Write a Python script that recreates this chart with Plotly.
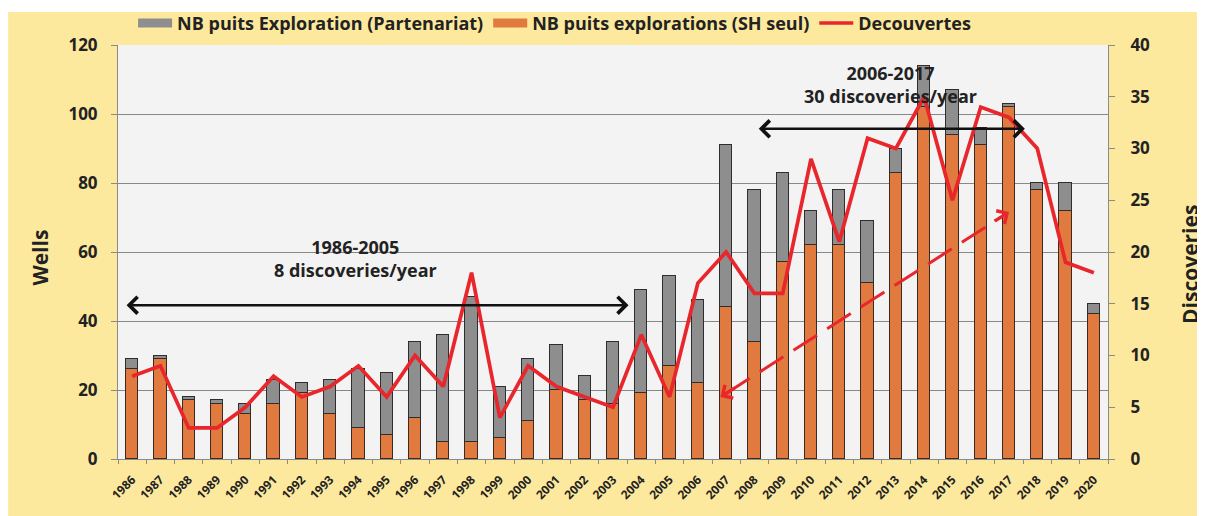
import plotly.graph_objects as go
from plotly.subplots import make_subplots

years = list(range(1986, 2021))
year_labels = [str(y) for y in years]
# gray stacked part (partnership wells)
partenariat = [3, 1, 1, 1, 3, 7, 3, 10, 17, 18, 22, 31, 42, 15, 18, 13, 7,
               18, 30, 26, 24, 47, 44, 26, 10, 16, 18, 7, 12, 13, 5, 1, 2, 8, 3]
# orange part (SH alone)
sh_seul = [26, 29, 17, 16, 13, 16, 19, 13, 9, 7, 12, 5, 5, 6, 11, 20, 17,
           16, 19, 27, 22, 44, 34, 57, 62, 62, 51, 83, 102, 94, 91, 102, 78, 72, 42]
decouvertes = [8, 9, 3, 3, 5, 8, 6, 7, 9, 6, 10, 7, 18, 4, 9, 7, 6,
               5, 12, 6, 17, 20, 16, 16, 29, 21, 31, 30, 35, 25, 34, 33, 30, 19, 18]
wells_ticks = [0, 20, 40, 60, 80, 100, 120]
disc_ticks = [0, 5, 10, 15, 20, 25, 30, 35, 40]

FONT = "Open Sans"
YELLOW = "#FDE99E"
TXT = "#222222"
ORANGE = "#E07A3E"
GRAY = "#8E8E8E"
RED = "#E8262B"

fig = make_subplots(specs=[[{"secondary_y": True}]])

fig.add_trace(go.Bar(
    x=years, y=sh_seul, name="NB puits explorations (SH seul)",
    marker=dict(color=ORANGE, line=dict(color="#3b2a20", width=1.5)),
    width=0.43, showlegend=False), secondary_y=False)
fig.add_trace(go.Bar(
    x=years, y=partenariat, name="NB puits Exploration (Partenariat)",
    marker=dict(color=GRAY, line=dict(color="#2e2e2e", width=1.5)),
    width=0.43, showlegend=False), secondary_y=False)
fig.add_trace(go.Scatter(
    x=years, y=decouvertes, name="Decouvertes", mode="lines",
    line=dict(color=RED, width=3.7), showlegend=False), secondary_y=True)

# legend entries (wide swatches like the reference)
fig.add_trace(go.Scatter(x=[None], y=[None], mode="lines", name="NB puits Exploration (Partenariat)",
                         line=dict(color=GRAY, width=9), legendrank=1), secondary_y=False)
fig.add_trace(go.Scatter(x=[None], y=[None], mode="lines", name="NB puits explorations (SH seul)",
                         line=dict(color=ORANGE, width=9), legendrank=2), secondary_y=False)
fig.add_trace(go.Scatter(x=[None], y=[None], mode="lines", name="Decouvertes",
                         line=dict(color=RED, width=3.5), legendrank=3), secondary_y=False)

shapes = [
    dict(type="rect", xref="paper", yref="paper", x0=-0.111, x1=1.2, y0=-0.3, y1=1.0797,
         fillcolor=YELLOW, line=dict(width=0), layer="below"),
    dict(type="rect", xref="paper", yref="paper", x0=0, x1=1, y0=0, y1=1,
         fillcolor="#F3F3F3", line=dict(width=0), layer="below"),
    dict(type="line", xref="x", yref="y", x0=2007.0, y0=19.0, x1=2016.8, y1=70.5,
         line=dict(color=RED, width=3, dash="28px,12px")),
]

ann = []
def txt(x, y, t):
    ann.append(dict(x=x, y=y, xref="x", yref="y", text=t, showarrow=False,
                    align="center", xanchor="center", yanchor="middle",
                    font=dict(family=FONT, size=18, color=TXT, weight="bold")))
txt(1993.9, 58.1, "1986-2005<br>8 discoveries/year")
txt(2012.8, 108.6, "2006-2017<br>30 discoveries/year")

def dbl_arrow(x0, x1, y):
    ann.append(dict(x=x1, y=y, ax=x0, ay=y, xref="x", yref="y", axref="x", ayref="y",
                    text="", showarrow=True, arrowhead=4, startarrowhead=4,
                    arrowside="end+start", arrowwidth=2.5, arrowsize=1.3,
                    startarrowsize=1.3, arrowcolor="#111111", standoff=0, startstandoff=0))
dbl_arrow(1985.75, 2003.55, 44.6)
dbl_arrow(2008.1, 2017.56, 95.7)

# red dashed arrow heads
ann.append(dict(x=2017.0, y=71.6, xref="x", yref="y", ax=-16, ay=10, text="",
                showarrow=True, arrowhead=4, arrowwidth=3, arrowsize=1.0, arrowcolor=RED))
ann.append(dict(x=2006.8, y=18.0, xref="x", yref="y", ax=16, ay=-10, text="",
                showarrow=True, arrowhead=4, arrowwidth=3, arrowsize=1.0, arrowcolor=RED))

# axis titles
ann.append(dict(x=-0.079, y=0.486, xref="paper", yref="paper", text="Wells", textangle=-90,
                xanchor="center", yanchor="middle",
                showarrow=False, font=dict(family=FONT, size=21, color=TXT, weight="bold")))
ann.append(dict(x=1.083, y=0.469, xref="paper", yref="paper", text="Discoveries", textangle=-90,
                xanchor="center", yanchor="middle",
                showarrow=False, font=dict(family=FONT, size=21, color=TXT, weight="bold")))

fig.update_layout(
    width=1205, height=516,
    margin=dict(l=110, r=105, t=37, b=65, autoexpand=False),
    paper_bgcolor="white", plot_bgcolor="#F3F3F3",
    font=dict(family=FONT, color=TXT, weight="bold"),
    barmode="stack", bargap=0,
    showlegend=True,
    legend=dict(orientation="h", x=0.441, xanchor="center", y=1.008, yanchor="bottom",
                traceorder="normal",
                font=dict(family=FONT, size=18, color=TXT, weight="bold"),
                bgcolor="rgba(0,0,0,0)", itemwidth=34, tracegroupgap=0),
    shapes=shapes, annotations=ann,
)
fig.update_xaxes(
    domain=[0, 1],
    range=[1985.5, 2020.5], tickvals=years, ticktext=year_labels, tickangle=-45,
    tickfont=dict(family=FONT, size=12, color=TXT, weight="bold"),
    ticks="", showgrid=False, showline=True, linecolor="#8a8a8a", linewidth=1,
    ticklabelstandoff=8,
    minor=dict(tickvals=[y + 0.5 for y in range(1985, 2021)], ticks="outside",
               ticklen=4, tickcolor="#8a8a8a", showgrid=False),
    zeroline=False,
)
fig.update_yaxes(
    range=[0, 120], tickvals=wells_ticks, showgrid=True, gridcolor="#888888", gridwidth=1,
    ticks="outside", ticklen=6, tickcolor="#8a8a8a", showline=True, linecolor="#8a8a8a",
    tickfont=dict(family=FONT, size=17, color=TXT, weight="bold"), zeroline=False,
    ticklabelstandoff=10, secondary_y=False)
fig.update_yaxes(
    range=[0, 40], tickvals=disc_ticks, showgrid=False,
    ticks="outside", ticklen=6, tickcolor="#8a8a8a", showline=True, linecolor="#8a8a8a",
    tickfont=dict(family=FONT, size=17, color=TXT, weight="bold"), zeroline=False,
    ticklabelstandoff=12, secondary_y=True)

fig.write_html("out.html")
